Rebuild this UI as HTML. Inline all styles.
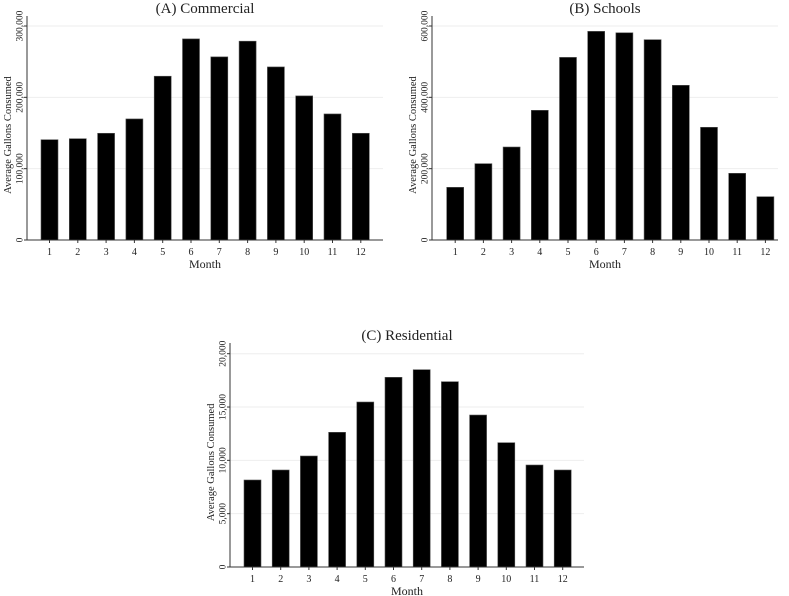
<!DOCTYPE html>
<html><head><meta charset="utf-8"><style>
body{margin:0;background:#fff;}
svg{display:block;font-family:"Liberation Serif",serif;}
</style></head><body>
<svg id="c" width="789" height="596" viewBox="0 0 789 596" xmlns="http://www.w3.org/2000/svg"></svg>
<script>
const months = [1,2,3,4,5,6,7,8,9,10,11,12];
const commercialValues = [140600,142000,149600,169700,229600,281900,256700,278700,242600,202000,176700,149600];
const schoolsValues = [147700,214000,260700,363600,512000,585000,581000,561600,433700,316000,187000,121400];
const residentialValues = [8157,9094,10407,12630,15470,17785,18500,17375,14250,11655,9563,9094];
const commercialTicks = [0,100000,200000,300000];
const schoolsTicks = [0,200000,400000,600000];
const residentialTicks = [0,5000,10000,15000,20000];
const titles = ["(A) Commercial","(B) Schools","(C) Residential"];

const svg = document.getElementById('c');
const NS = 'http://www.w3.org/2000/svg';
function mk(tag, attrs, parent){
  const e = document.createElementNS(NS, tag);
  for (const k in attrs) e.setAttribute(k, attrs[k]);
  (parent||svg).appendChild(e);
  return e;
}
function fmt(v){ return v.toLocaleString('en-US'); }

function panel(key, title, values, ticks, box){
  const g = mk('g', {});
  
  
  const {x0, x1, yTop, y0, yMaxVal, bar1x, step, bw, axisTop} = box;
  const y = v => y0 - (v / yMaxVal) * (y0 - yTop);
  const xc = i => bar1x + bw/2 + i*step;
  ticks.forEach(t => {
    if (t > 0) {
      const gl = mk('line', {x1:x0, x2:x1, y1:y(t), y2:y(t), stroke:'#eeeeee', 'stroke-width':1}, g);
      
      
    }
    const tk = mk('line', {x1:x0-3, x2:x0, y1:y(t), y2:y(t), stroke:'#333', 'stroke-width':1}, g);
    
    
    const lb = mk('text', {x:0, y:0, 'font-size':9.5, fill:'#222', 'text-anchor':'middle',
      transform:`translate(${x0-4.5},${y(t)}) rotate(-90)`}, g);
    lb.textContent = fmt(t);
    
    
  });
  values.forEach((v, i) => {
    const r = mk('rect', {x:xc(i)-bw/2, y:y(v), width:bw, height:y0-y(v), fill:'#000', stroke:'#555', 'stroke-width':0.6}, g);
    
    
  });
  const ya = mk('line', {x1:x0, x2:x0, y1:axisTop, y2:y0, stroke:'#333', 'stroke-width':1}, g);
  
  
  const xa = mk('line', {x1:x0, x2:x1, y1:y0, y2:y0, stroke:'#333', 'stroke-width':1}, g);
  
  
  months.forEach((m, i) => {
    const tk = mk('line', {x1:xc(i), x2:xc(i), y1:y0, y2:y0+3, stroke:'#333', 'stroke-width':1}, g);
    
    
    const lb = mk('text', {x:xc(i), y:y0+15, 'font-size':10, fill:'#222', 'text-anchor':'middle'}, g);
    lb.textContent = m;
    
    
  });
  const xt = mk('text', {x:(x0+x1)/2, y:y0+28, 'font-size':12, fill:'#222', 'text-anchor':'middle'}, g);
  xt.textContent = 'Month';
  
  
  const ytl = mk('text', {x:0, y:0, 'font-size':10.5, fill:'#222', 'text-anchor':'middle',
    transform:`translate(${x0-16},${(yTop+y0)/2+2}) rotate(-90)`}, g);
  ytl.textContent = 'Average Gallons Consumed';
  
  
  const tt = mk('text', {x:(x0+x1)/2, y:axisTop-3, 'font-size':15, fill:'#222', 'text-anchor':'middle'}, g);
  tt.textContent = title;
  
  
}

panel('commercial', titles[0], commercialValues, commercialTicks,
  {x0:27, x1:383, yTop:26, y0:240, yMaxVal:300000, bar1x:41, step:28.3, bw:17, axisTop:16});
panel('schools', titles[1], schoolsValues, schoolsTicks,
  {x0:432, x1:778, yTop:26, y0:240, yMaxVal:600000, bar1x:446.7, step:28.2, bw:17, axisTop:16});
panel('residential', titles[2], residentialValues, residentialTicks,
  {x0:230, x1:584, yTop:353.7, y0:567, yMaxVal:20000, bar1x:244, step:28.2, bw:17, axisTop:343});
</script>
</body></html>
